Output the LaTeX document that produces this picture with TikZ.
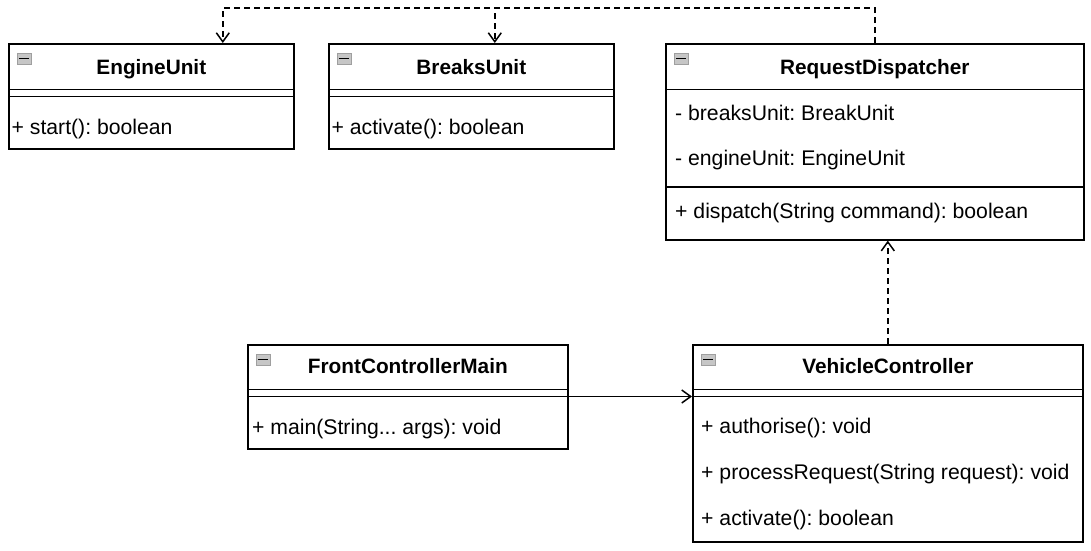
\documentclass[tikz,border=0pt]{standalone}
\usepackage{fontspec}
\setmainfont{Liberation Sans}
\usetikzlibrary{arrows.meta,calc}
\frenchspacing
\newcommand\clsicon[1]{%
  \filldraw[fill=gray!45,draw=gray!75,line width=0.7pt] ($(#1.north west)+(9,10)$) rectangle ($(#1.north west)+(23,21)$);
  \draw[line width=1.2pt] ($(#1.north west)+(11,15.5)$) -- ($(#1.north west)+(21,15.5)$);}
\newcommand\clsline[2]{%
  \draw[sepline] ($(#1.north west)+(0,#2)$) -- ($(#1.north east)+(0,#2)$);}
\begin{document}
\begin{tikzpicture}[x=1pt,y=-1pt,
  cls/.style={draw=black, line width=1.6pt, anchor=north west, inner sep=0pt, fill=white},
  ttl/.style={font=\fontsize{20.8}{24}\selectfont\bfseries\frenchspacing, anchor=base, inner sep=0pt},
  mem/.style={font=\fontsize{21.2}{24}\selectfont\frenchspacing, anchor=base west, inner sep=0pt},
  sepline/.style={line width=1.6pt},
  dep/.style={line width=1.5pt, dash pattern=on 6pt off 4pt, -{Straight Barb[length=9pt,width=13pt]}},
  assoc/.style={line width=1.5pt, -{Straight Barb[length=9pt,width=13pt]}}]
\useasboundingbox (0,0) rectangle (1091,550);
% boxes
\node[cls, minimum width=285pt, minimum height=105pt] (eu) at (8,43) {};
\node[cls, minimum width=285pt, minimum height=105pt] (bu) at (328,43) {};
\node[cls, minimum width=418pt, minimum height=196pt] (rd) at (665,43) {};
\node[cls, minimum width=320pt, minimum height=104pt] (fcm) at (247,344) {};
\node[cls, minimum width=390pt, minimum height=197pt] (vc) at (692,344) {};
% EngineUnit
\clsicon{eu}
\node[ttl] (eut) at ($(eu.north)+(0,31)$) {EngineUnit};
\clsline{eu}{46.5}
\clsline{eu}{53.5}
\node[mem] (eum) at (11.5,134) {+ start(): boolean};
% BreaksUnit
\clsicon{bu}
\node[ttl] (but) at ($(bu.north)+(0,31)$) {BreaksUnit};
\clsline{bu}{46.5}
\clsline{bu}{53.5}
\node[mem] (bum) at (331.5,134) {+ activate(): boolean};
% RequestDispatcher
\clsicon{rd}
\node[ttl] (rdt) at ($(rd.north)+(0,31)$) {RequestDispatcher};
\clsline{rd}{46.5}
\node[mem] (rda1) at (675,120.5) {- breaksUnit: BreakUnit};
\node[mem] (rda2) at (675,165.5) {- engineUnit: EngineUnit};
\clsline{rd}{144}
\node[mem] (rdm) at (675,218.5) {+ dispatch(String command): boolean};
% FrontControllerMain
\clsicon{fcm}
\node[ttl] (fcmt) at ($(fcm.north)+(0,29)$) {FrontControllerMain};
\clsline{fcm}{45.5}
\clsline{fcm}{52.5}
\node[mem] (fcmm) at (252,434) {+ main(String... args): void};
% VehicleController
\clsicon{vc}
\node[ttl] (vct) at ($(vc.north)+(0,29)$) {VehicleController};
\clsline{vc}{45.5}
\clsline{vc}{52.5}
\node[mem] (vcm1) at (701,433.5) {+ authorise(): void};
\node[mem] (vcm2) at (701,479.5) {+ processRequest(String request): void};
\node[mem] (vcm3) at (701,525) {+ activate(): boolean};
% connectors
\draw[dep] (rd.north) -- ++(0,-35) -| ($(bu.north)+(23.5,0)$);
\draw[dep] (rd.north) -- ++(0,-35) -| ($(eu.north)+(71.5,0)$);
\draw[dep] (vc.north) -- (vc.north |- rd.south);
\draw[assoc] ($(fcm.north east)+(0,52.5)$) -- ($(vc.north west)+(0,52.5)$);
\end{tikzpicture}
\end{document}
